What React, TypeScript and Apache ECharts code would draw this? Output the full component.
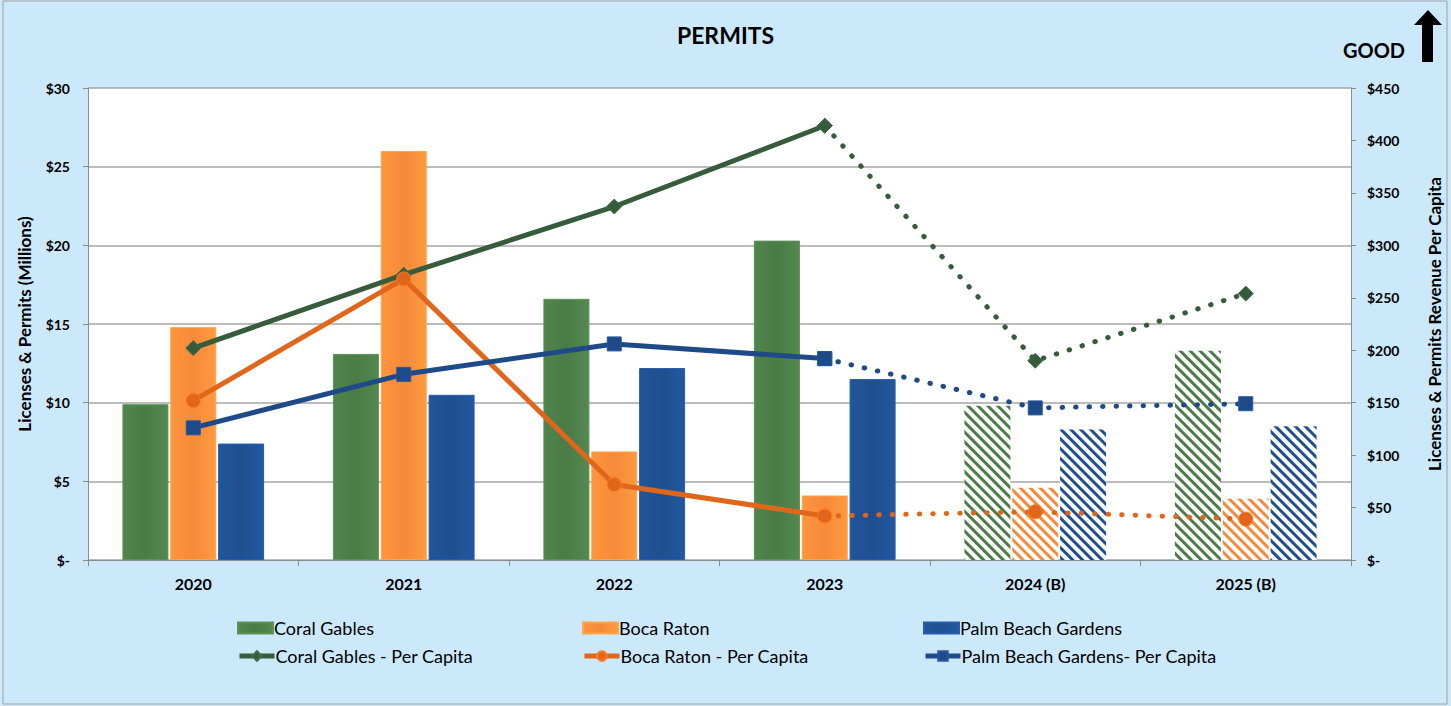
import React, { useEffect, useRef } from "react";
import * as echarts from "echarts";

const categories = ["2020", "2021", "2022", "2023", "2024 (B)", "2025 (B)"];
const coralGables = [9.9, 13.1, 16.6, 20.3, 9.8, 13.3];
const bocaRaton = [14.8, 26.0, 6.9, 4.1, 4.6, 3.9];
const palmBeach = [7.4, 10.5, 12.2, 11.5, 8.3, 8.5];
const coralPerCapita = [202, 272, 337, 414, 190, 254];
const bocaPerCapita = [152, 268, 72, 42, 46, 39];
const palmPerCapita = [126, 177, 206, 192, 145, 149];
const budgetFrom = 4; // index where budget (B) years start
const leftTicks = { min: 0, max: 30, interval: 5 };
const rightTicks = { min: 0, max: 450, interval: 50 };

const FONT = "Lato, 'Liberation Sans', sans-serif";

const GREEN = "#4b7b47";
const ORANGE = "#f58a3a";
const BLUE = "#1f4f8f";
const GREEN_L = "#365c3c";
const ORANGE_L = "#e0661b";
const BLUE_L = "#1f4a88";

function barData(vals: number[], color: string) {
  return vals.map((v, i) =>
    i >= budgetFrom
      ? {
          value: v,
          itemStyle: {
            color: "#ffffff",
            borderWidth: 0,
            decal: {
              symbol: "rect",
              symbolSize: 1,
              color: color,
              dashArrayX: [1, 0],
              dashArrayY: [2.5, 4],
              rotation: Math.PI / 4,
            },
          },
        }
      : v
  );
}

function solidPart(vals: number[]) {
  return vals.map((v, i) => (i <= budgetFrom - 1 ? v : null));
}
function dottedPart(vals: number[]) {
  return vals.map((v, i) => (i >= budgetFrom - 1 ? v : null));
}

function barGrad(c: string) {
  return new echarts.graphic.LinearGradient(0, 0, 1, 0, [
    { offset: 0, color: echarts.color.lift(c, -0.08) },
    { offset: 0.5, color: c },
    { offset: 1, color: echarts.color.lift(c, -0.12) },
  ]);
}

export default function App() {
  const ref = useRef<HTMLDivElement>(null);
  useEffect(() => {
    if (!ref.current) return;
    const chart = echarts.init(ref.current, undefined, { renderer: "svg" });
    const money = (v: number) => (v === 0 ? "$-" : "$" + v);

    const barSeries = (name: string, vals: number[], c: string) => ({
      name,
      type: "bar",
      yAxisIndex: 0,
      barWidth: 46,
      barGap: "4%",
      itemStyle: { color: barGrad(c), borderColor: echarts.color.lift(c, -0.2), borderWidth: 1 },
      data: barData(vals, c),
      z: 2,
    });
    const lineSeries = (name: string, vals: number[], c: string, symbol: string, size: number) => [
      {
        name,
        type: "line",
        yAxisIndex: 1,
        data: solidPart(vals),
        symbol,
        symbolSize: size,
        itemStyle: { color: c, borderColor: echarts.color.lift(c, -0.2), borderWidth: 1 },
        lineStyle: { color: c, width: 5 },
        connectNulls: false,
        z: 5,
      },
      {
        name,
        type: "line",
        yAxisIndex: 1,
        data: dottedPart(vals),
        symbol,
        symbolSize: size,
        itemStyle: { color: c, borderColor: echarts.color.lift(c, -0.2), borderWidth: 1 },
        lineStyle: { color: c, width: 5, type: [0.5, 13], cap: "round" },
        connectNulls: false,
        z: 4,
      },
    ];

    const legendBase = {
      itemWidth: 35,
      itemHeight: 11,
      itemGap: 0,
      textStyle: { fontFamily: FONT, fontSize: 18, color: "#000", padding: [0, 0, 0, -4] },
      selectedMode: false,
      padding: 0,
    };
    const lineLegend = { ...legendBase, itemHeight: 12, lineStyle: { width: 5 } };

    chart.setOption({
      animation: false,
      backgroundColor: "#cce9fb",
      textStyle: { fontFamily: FONT },
      title: {
        text: "PERMITS",
        left: "center",
        top: 18,
        textStyle: { fontFamily: FONT, fontSize: 23, fontWeight: "bold", color: "#000" },
      },
      grid: {
        left: 88,
        right: 95,
        top: 88,
        bottom: 146,
        show: true,
        backgroundColor: "#ffffff",
        borderWidth: 0,
      },
      legend: [
        { ...legendBase, left: 237, top: 619, icon: "rect", data: ["Coral Gables"] },
        { ...legendBase, left: 582, top: 619, icon: "rect", data: ["Boca Raton"] },
        { ...legendBase, left: 923, top: 619, icon: "rect", data: ["Palm Beach Gardens"] },
        { ...lineLegend, left: 237, top: 647, data: ["Coral Gables - Per Capita"] },
        { ...lineLegend, left: 582, top: 647, data: ["Boca Raton - Per Capita"] },
        { ...lineLegend, left: 923, top: 647, data: ["Palm Beach Gardens- Per Capita"] },
      ],
      xAxis: {
        type: "category",
        data: categories,
        axisLine: { lineStyle: { color: "#8c8c8c", width: 1 } },
        axisTick: { show: true, length: 6, lineStyle: { color: "#8c8c8c" } },
        axisLabel: { fontFamily: FONT, fontSize: 16, fontWeight: "bold", color: "#000", margin: 15 },
      },
      yAxis: [
        {
          type: "value",
          ...leftTicks,
          position: "left",
          name: "Licenses & Permits (Millions)",
          nameLocation: "middle",
          nameGap: 55,
          nameRotate: 90,
          nameTextStyle: { fontFamily: FONT, fontSize: 17, fontWeight: "bold", color: "#000" },
          axisLine: { show: true, lineStyle: { color: "#8c8c8c" } },
          axisTick: { show: true, length: 5, lineStyle: { color: "#8c8c8c" } },
          splitLine: { show: true, lineStyle: { color: "#a6a6a6", width: 1.5 } },
          axisLabel: { formatter: money, fontFamily: FONT, fontSize: 14, fontWeight: "bold", color: "#000", margin: 18 },
        },
        {
          type: "value",
          ...rightTicks,
          position: "right",
          name: "Licenses & Permits Revenue Per Capita",
          nameLocation: "middle",
          nameGap: 75,
          nameRotate: 90,
          nameTextStyle: { fontFamily: FONT, fontSize: 17, fontWeight: "bold", color: "#000" },
          axisLine: { show: true, lineStyle: { color: "#8c8c8c" } },
          axisTick: { show: true, length: 5, lineStyle: { color: "#8c8c8c" } },
          splitLine: { show: false },
          axisLabel: { formatter: money, fontFamily: FONT, fontSize: 14, fontWeight: "bold", color: "#000", margin: 16 },
        },
      ],
      series: [
        barSeries("Coral Gables", coralGables, GREEN),
        barSeries("Boca Raton", bocaRaton, ORANGE),
        barSeries("Palm Beach Gardens", palmBeach, BLUE),
        ...lineSeries("Coral Gables - Per Capita", coralPerCapita, GREEN_L, "diamond", 15),
        ...lineSeries("Boca Raton - Per Capita", bocaPerCapita, ORANGE_L, "circle", 14),
        ...lineSeries("Palm Beach Gardens- Per Capita", palmPerCapita, BLUE_L, "rect", 14),
      ],
      graphic: [
        {
          type: "rect",
          shape: { x: 3, y: 1, width: 1444, height: 703 },
          style: { fill: "none", stroke: "#a0a0a0", lineWidth: 1 },
          silent: true,
          z: -1,
        },
        {
          type: "text",
          x: 1343,
          y: 40,
          style: { text: "GOOD", fontFamily: FONT, fontSize: 20, fontWeight: "bold", fill: "#000" },
        },
        {
          type: "polygon",
          shape: {
            points: [
              [1428, 10],
              [1442, 25],
              [1433, 25],
              [1433, 62],
              [1422, 62],
              [1422, 25],
              [1414, 25],
            ],
          },
          style: { fill: "#000" },
        },
      ],
    });
    return () => chart.dispose();
  }, []);
  return (
    <div
      ref={ref}
      style={{ position: "fixed", left: 0, top: 0, width: 1451, height: 706 }}
    />
  );
}
